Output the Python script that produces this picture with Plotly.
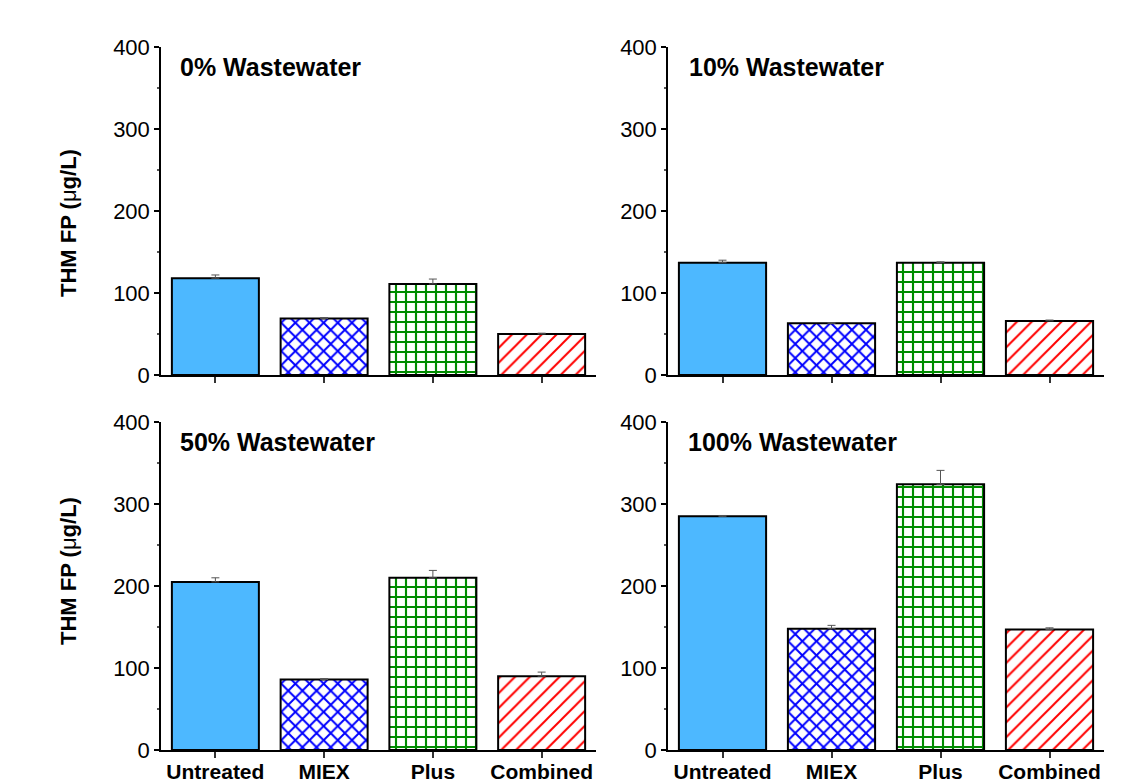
import plotly.graph_objects as go

# Treatment categories and THM formation potential (ug/L) for each wastewater fraction
categories = ["Untreated", "MIEX", "Plus", "Combined"]
panel_titles = ["0% Wastewater", "10% Wastewater", "50% Wastewater", "100% Wastewater"]

thm_0 = [118, 69, 111, 50]
err_0 = [4, 1, 6, 1]
thm_10 = [137, 63, 137, 66]
err_10 = [3, 1, 1, 1]
thm_50 = [205, 86, 210, 90]
err_50 = [5, 1, 9, 5]
thm_100 = [285, 148, 324, 147]
err_100 = [1, 4, 17, 2]

y_ticks = [0, 100, 200, 300, 400]

values = [thm_0, thm_10, thm_50, thm_100]
errors = [err_0, err_10, err_50, err_100]

# Bar styling per treatment
fill_colors = ["#4DB8FF", "white", "white", "white"]
pattern_shapes = ["", "x", "+", "/"]
pattern_colors = ["#4DB8FF", "#0000FF", "#008C00", "#FF0000"]
pattern_sizes = [10, 10, 10, 10.5]
pattern_solidity = [0.3, 0.36, 0.38, 0.19]

FONT = "Arial, Liberation Sans, sans-serif"
W, H = 1143, 784

# Panel placement in pixels: (left, right, top, bottom)
panels_px = [
    (161, 596, 47, 375),
    (668, 1104, 47, 375),
    (161, 596, 422, 750),
    (668, 1104, 422, 750),
]

fig = go.Figure()
layout = {}
for i, (vals, errs) in enumerate(zip(values, errors)):
    n = i + 1
    xa = "x" if n == 1 else f"x{n}"
    ya = "y" if n == 1 else f"y{n}"
    for j, cat in enumerate(categories):
        pattern = dict(shape=pattern_shapes[j])
        if pattern_shapes[j]:
            pattern.update(fgcolor=pattern_colors[j], bgcolor="white",
                           size=pattern_sizes[j], solidity=pattern_solidity[j],
                           fillmode="replace")
        fig.add_trace(go.Bar(
            x=[cat], y=[vals[j]], xaxis=xa, yaxis=ya, width=0.8,
            marker=dict(color=fill_colors[j],
                        line=dict(color="black", width=2),
                        pattern=pattern),
            error_y=dict(type="data", symmetric=False, array=[errs[j]],
                         arrayminus=[0], color="#555555",
                         thickness=1, width=4),
            showlegend=False,
        ))
    l, r, t, b = panels_px[i]
    bottom_row = i >= 2
    layout["xaxis" if n == 1 else f"xaxis{n}"] = dict(
        domain=[l / W, r / W], anchor=ya, type="category",
        categoryorder="array", categoryarray=categories,
        range=[-0.5, 3.5], showline=True, linecolor="black", linewidth=1.5,
        ticks="outside", ticklen=6, tickwidth=1.5, tickcolor="#333333",
        showticklabels=bottom_row, showgrid=False, zeroline=False,
        automargin=False, ticklabelstandoff=-4,
        tickfont=dict(family=FONT, size=21, color="black", weight="bold"),
    )
    layout["yaxis" if n == 1 else f"yaxis{n}"] = dict(
        domain=[(H - b) / H, (H - t) / H], anchor=xa, range=[0, 400],
        tickvals=y_ticks, showline=True, linecolor="black", linewidth=1.5,
        ticks="outside", ticklen=5, tickwidth=1.5, tickcolor="black",
        minor=dict(ticks="outside", ticklen=2, dtick=50, tickcolor="#555555"),
        showgrid=False, zeroline=False, automargin=False,
        tickfont=dict(family=FONT, size=22, color="black"),
    )

annotations = []
title_pos = [(178, 67), (687, 67), (178, 442), (686, 442)]
for (px, py), title in zip(title_pos, panel_titles):
    annotations.append(dict(
        x=px / W, y=(H - py) / H, xref="paper", yref="paper",
        xanchor="left", yanchor="middle", showarrow=False, text=f"<b>{title}</b>",
        font=dict(family=FONT, size=25, color="black"),
    ))
for py in (223, 571):
    annotations.append(dict(
        x=68 / W, y=(H - py) / H, xref="paper", yref="paper",
        xanchor="center", yanchor="middle", showarrow=False, textangle=-90,
        text="<b>THM FP (</b>\u03bc<b>g/L)</b>",
        font=dict(family=FONT, size=22, color="black"),
    ))

fig.update_layout(
    width=W, height=H, margin=dict(l=0, r=0, t=0, b=0),
    paper_bgcolor="white", plot_bgcolor="white",
    annotations=annotations, bargap=0.2, barmode="overlay",
    **layout,
)

fig.write_html("out.html")
